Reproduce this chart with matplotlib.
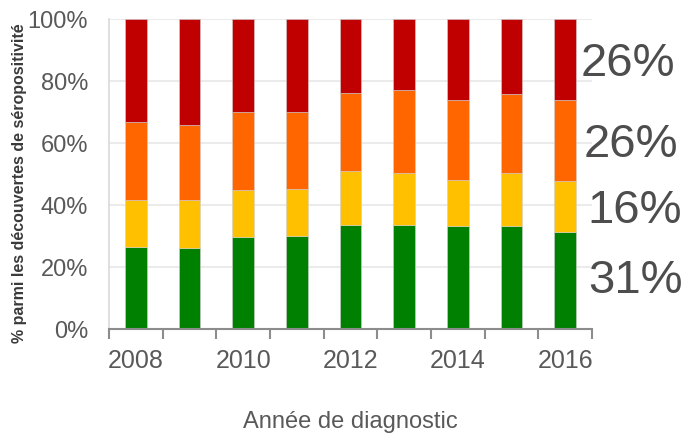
import numpy as np
import matplotlib
matplotlib.use("Agg")
import matplotlib.pyplot as plt

plt.rcParams['font.family'] = ['Liberation Sans', 'DejaVu Sans']

# data (percent of new HIV diagnoses per year, stacked bottom to top)
years = [2008, 2009, 2010, 2011, 2012, 2013, 2014, 2015, 2016]
green = [26.5, 26.2, 29.8, 30.1, 33.5, 33.5, 33.1, 33.1, 31.3]
yellow = [15.1, 15.3, 15.0, 15.1, 17.4, 16.8, 15.0, 17.1, 16.4]
orange = [25.2, 24.4, 25.1, 24.8, 25.2, 26.8, 25.7, 25.5, 26.2]
red = [33.2, 34.1, 30.1, 30.0, 23.9, 22.9, 26.2, 24.3, 26.1]
last_labels = ["31%", "16%", "26%", "26%"]
ytick_vals = [0, 20, 40, 60, 80, 100]

colors = ["#008000", "#FFC000", "#FF6600", "#C00000"]
series = [green, yellow, orange, red]

fig = plt.figure(figsize=(6.86, 4.33), dpi=100)
ax = fig.add_axes([0.159, 0.240, 0.704, 0.716])

x = np.arange(len(years))
bottom = np.zeros(len(years))
for vals, c in zip(series, colors):
    ax.bar(x, vals, width=0.4, bottom=bottom, color=c, edgecolor="#d0d0d0",
           linewidth=0.4, zorder=3)
    bottom += np.array(vals)

ax.set_xlim(-0.5, len(years) - 0.5)
ax.set_ylim(0, 100)

# gridlines
ax.set_yticks(ytick_vals)
ax.set_yticklabels([f"{v}%" for v in ytick_vals], fontsize=17, color="#595959")
ax.yaxis.grid(True, color="#ebebeb", linewidth=1.5, zorder=0)
ax.tick_params(axis="y", length=0, pad=15)

# x ticks at band boundaries, labels every other year
ax.set_xticks(np.arange(-0.5, len(years), 1.0))
ax.set_xticklabels([])
ax.tick_params(axis="x", which="major", length=7, width=1.5, color="#8c8c8c",
               direction="out")
ax.set_xticks(x[::2], minor=True)
ax.set_xticklabels([str(y) for y in years[::2]], minor=True, fontsize=18,
                   color="#595959")
ax.tick_params(axis="x", which="minor", length=0, pad=14)

for s in ["top", "right"]:
    ax.spines[s].set_visible(False)
ax.spines["left"].set_color("#d9d9d9")
ax.spines["left"].set_linewidth(1.2)
ax.spines["bottom"].set_color("#8c8c8c")
ax.spines["bottom"].set_linewidth(1.5)
ax.spines["bottom"].set_zorder(4)

ax.set_ylabel("% parmi les découvertes de séropositivité", fontsize=11.5,
              fontweight="bold", color="#3a3a3a")
ax.yaxis.set_label_coords(-0.170, 0.47)
ax.set_xlabel("Année de diagnostic", fontsize=17, color="#595959", labelpad=28)

# labels for the last year on the right
label_pos = [(0.993, 0.155), (0.990, 0.382), (0.982, 0.594), (0.976, 0.855)]
for txt, (px, py) in zip(last_labels, label_pos):
    ax.text(px, py, txt, transform=ax.transAxes, fontsize=34, color="#4d4d4d",
            ha="left", va="center", clip_on=False, zorder=5)

fig.savefig("out.png", dpi=100)
